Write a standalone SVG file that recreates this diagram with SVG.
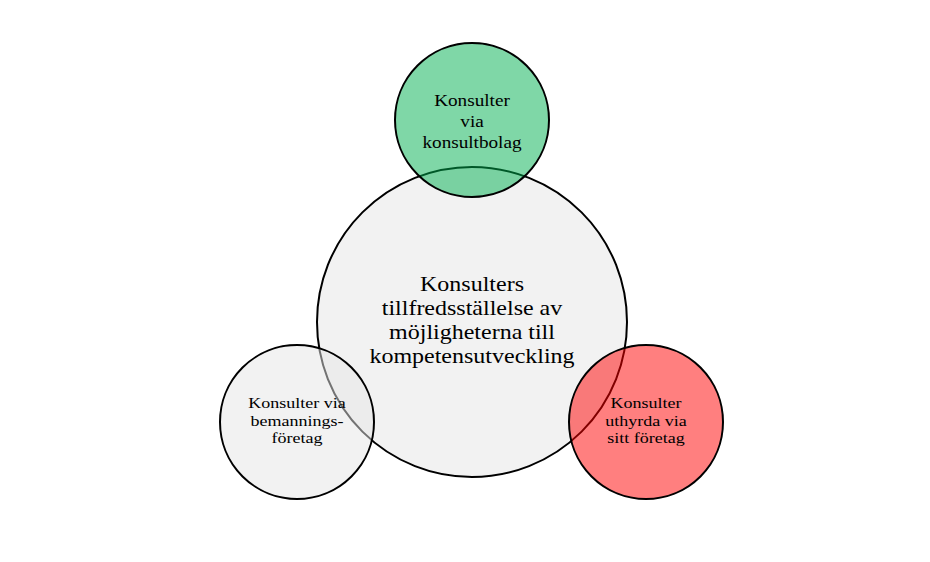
<svg xmlns="http://www.w3.org/2000/svg" width="930" height="562" viewBox="0 0 930 562">
  <style>
    .bg { fill: #ffffff; }
    .circle { stroke: #000000; stroke-width: 2; }
    .main { fill: #f2f2f2; }
    .small { fill-opacity: 0.5; }
    .green { fill: #00b050; }
    .red { fill: #ff0000; }
    .grey { fill: #e6e6e6; }
    .label { font-family: "Liberation Serif", "Times New Roman", serif; fill: #000000; text-anchor: middle; }
    .big { font-size: 20px; }
    .mid { font-size: 16px; }
    .sm { font-size: 15px; }
  </style>
  <rect class="bg" x="0" y="0" width="930" height="562"/>
  <g id="node-center">
    <circle class="circle main" cx="472" cy="322" r="155"/>
    <g transform="translate(472 0) scale(1.2 1)">
      <text class="label big" x="0" y="291">Konsulters</text>
      <text class="label big" x="0" y="315">tillfredsställelse av</text>
      <text class="label big" x="0" y="339">möjligheterna till</text>
      <text class="label big" x="0" y="363">kompetensutveckling</text>
    </g>
  </g>
  <g id="node-top">
    <circle class="circle small green" cx="472" cy="120" r="77"/>
    <g transform="translate(472 0) scale(1.2 1)">
      <text class="label mid" x="0" y="106">Konsulter</text>
      <text class="label mid" x="0" y="127">via</text>
      <text class="label mid" x="0" y="148">konsultbolag</text>
    </g>
  </g>
  <g id="node-left">
    <circle class="circle small grey" cx="297" cy="422" r="77"/>
    <g transform="translate(297 0) scale(1.2 1)">
      <text class="label sm" x="0" y="408.5">Konsulter via</text>
      <text class="label sm" x="0" y="426">bemannings-</text>
      <text class="label sm" x="0" y="443.5">företag</text>
    </g>
  </g>
  <g id="node-right">
    <circle class="circle small red" cx="646" cy="422" r="77"/>
    <g transform="translate(646 0) scale(1.2 1)">
      <text class="label sm" x="0" y="408.5">Konsulter</text>
      <text class="label sm" x="0" y="426">uthyrda via</text>
      <text class="label sm" x="0" y="443.5">sitt företag</text>
    </g>
  </g>
  <g id="connectors"></g>
</svg>
